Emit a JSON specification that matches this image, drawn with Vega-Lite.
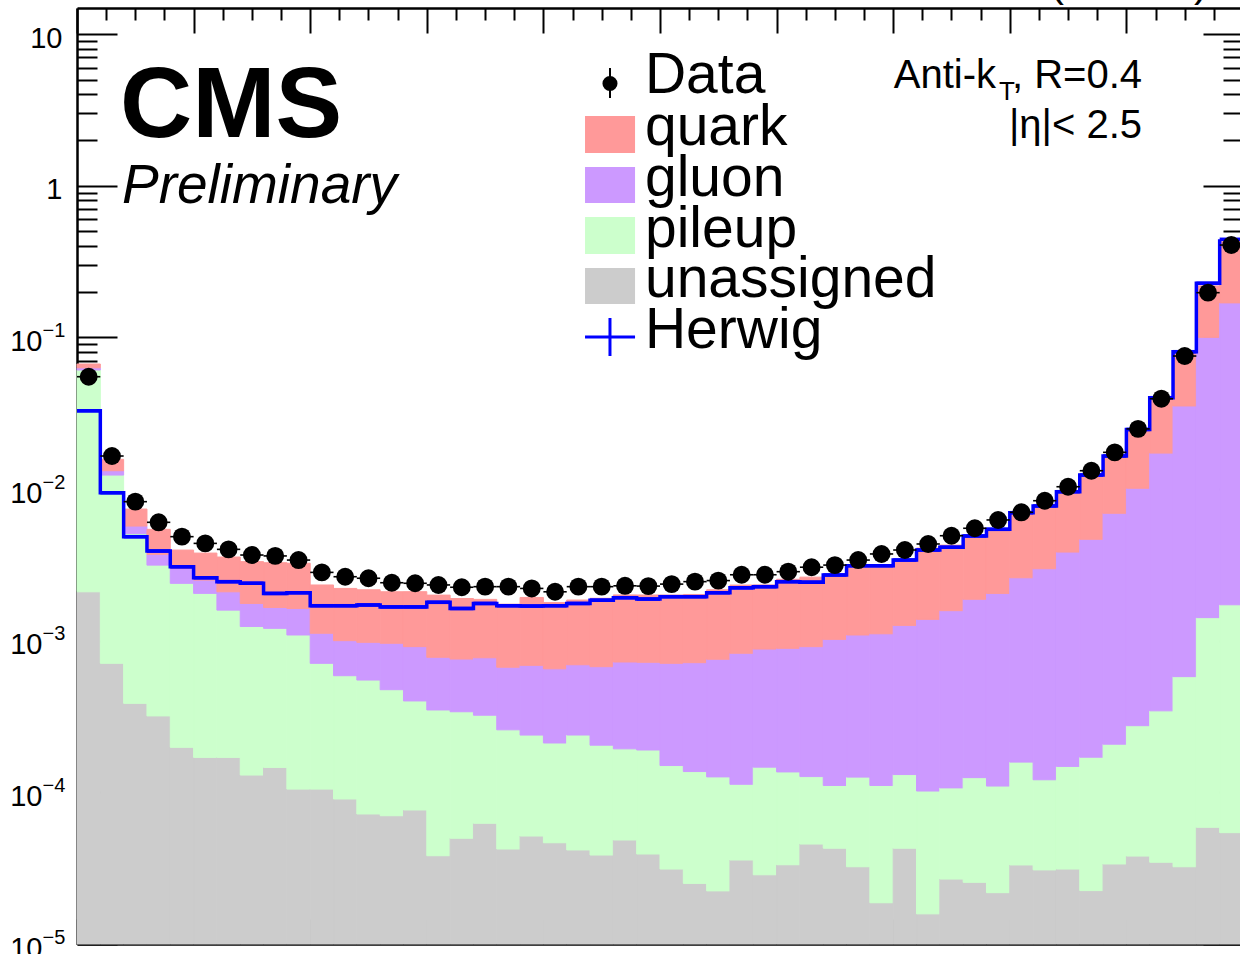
{
  "$schema": "https://vega.github.io/schema/vega-lite/v6.json",
  "width": 1163,
  "height": 936,
  "autosize": {"type": "none"},
  "padding": {"left": 77, "top": 8, "right": 0, "bottom": 10},
  "background": "white",
  "data": {
    "values": [
      {"lo": 0.00, "hi": 0.02, "unassigned": 0.00210, "pileup": 0.0588, "gluon": 0.0021, "quark": 0.0037, "herwig": 0.0328, "data": 0.0550},
      {"lo": 0.02, "hi": 0.04, "unassigned": 0.000709, "pileup": 0.01165, "gluon": 0.00084, "quark": 0.00249, "herwig": 0.00945, "data": 0.0165},
      {"lo": 0.04, "hi": 0.06, "unassigned": 0.000386, "pileup": 0.00471, "gluon": 0.00060, "quark": 0.00168, "herwig": 0.00485, "data": 0.00825},
      {"lo": 0.06, "hi": 0.08, "unassigned": 0.000319, "pileup": 0.00283, "gluon": 0.00056, "quark": 0.00171, "herwig": 0.00390, "data": 0.00603},
      {"lo": 0.08, "hi": 0.10, "unassigned": 0.000198, "pileup": 0.00219, "gluon": 0.00061, "quark": 0.00096, "herwig": 0.00307, "data": 0.00485},
      {"lo": 0.10, "hi": 0.12, "unassigned": 0.000170, "pileup": 0.00188, "gluon": 0.00046, "quark": 0.00127, "herwig": 0.00260, "data": 0.00438},
      {"lo": 0.12, "hi": 0.14, "unassigned": 0.000170, "pileup": 0.00142, "gluon": 0.00051, "quark": 0.00146, "herwig": 0.00245, "data": 0.00400},
      {"lo": 0.14, "hi": 0.16, "unassigned": 0.000130, "pileup": 0.00111, "gluon": 0.00052, "quark": 0.00156, "herwig": 0.00239, "data": 0.00367},
      {"lo": 0.16, "hi": 0.18, "unassigned": 0.000146, "pileup": 0.00106, "gluon": 0.00045, "quark": 0.00161, "herwig": 0.00205, "data": 0.00362},
      {"lo": 0.18, "hi": 0.20, "unassigned": 0.000105, "pileup": 0.000985, "gluon": 0.00054, "quark": 0.00161, "herwig": 0.00207, "data": 0.00340},
      {"lo": 0.20, "hi": 0.22, "unassigned": 0.000105, "pileup": 0.000604, "gluon": 0.00041, "quark": 0.00121, "herwig": 0.00170, "data": 0.00282},
      {"lo": 0.22, "hi": 0.24, "unassigned": 0.0000904, "pileup": 0.000497, "gluon": 0.000413, "quark": 0.00121, "herwig": 0.00170, "data": 0.00264},
      {"lo": 0.24, "hi": 0.26, "unassigned": 0.0000720, "pileup": 0.000478, "gluon": 0.000425, "quark": 0.00119, "herwig": 0.00172, "data": 0.00258},
      {"lo": 0.26, "hi": 0.28, "unassigned": 0.0000701, "pileup": 0.000405, "gluon": 0.000486, "quark": 0.00114, "herwig": 0.00167, "data": 0.00241},
      {"lo": 0.28, "hi": 0.30, "unassigned": 0.0000765, "pileup": 0.000324, "gluon": 0.000513, "quark": 0.00119, "herwig": 0.00167, "data": 0.00239},
      {"lo": 0.30, "hi": 0.32, "unassigned": 0.0000382, "pileup": 0.000311, "gluon": 0.000428, "quark": 0.00122, "herwig": 0.00179, "data": 0.00233},
      {"lo": 0.32, "hi": 0.34, "unassigned": 0.0000498, "pileup": 0.000290, "gluon": 0.000417, "quark": 0.00114, "herwig": 0.00163, "data": 0.00225},
      {"lo": 0.34, "hi": 0.36, "unassigned": 0.0000625, "pileup": 0.000260, "gluon": 0.000449, "quark": 0.00110, "herwig": 0.00176, "data": 0.00227},
      {"lo": 0.36, "hi": 0.38, "unassigned": 0.0000423, "pileup": 0.000216, "gluon": 0.000410, "quark": 0.00107, "herwig": 0.00170, "data": 0.00227},
      {"lo": 0.38, "hi": 0.40, "unassigned": 0.0000515, "pileup": 0.000187, "gluon": 0.000449, "quark": 0.00124, "herwig": 0.00169, "data": 0.00221},
      {"lo": 0.40, "hi": 0.42, "unassigned": 0.0000465, "pileup": 0.000165, "gluon": 0.000441, "quark": 0.00113, "herwig": 0.00170, "data": 0.00210},
      {"lo": 0.42, "hi": 0.44, "unassigned": 0.0000417, "pileup": 0.000197, "gluon": 0.000455, "quark": 0.00116, "herwig": 0.00176, "data": 0.00227},
      {"lo": 0.44, "hi": 0.46, "unassigned": 0.0000386, "pileup": 0.000166, "gluon": 0.000469, "quark": 0.00123, "herwig": 0.00185, "data": 0.00227},
      {"lo": 0.46, "hi": 0.48, "unassigned": 0.0000485, "pileup": 0.000145, "gluon": 0.000530, "quark": 0.00128, "herwig": 0.00192, "data": 0.00230},
      {"lo": 0.48, "hi": 0.50, "unassigned": 0.0000392, "pileup": 0.000151, "gluon": 0.000530, "quark": 0.00128, "herwig": 0.00188, "data": 0.00229},
      {"lo": 0.50, "hi": 0.52, "unassigned": 0.0000312, "pileup": 0.000119, "gluon": 0.000559, "quark": 0.00129, "herwig": 0.00195, "data": 0.00236},
      {"lo": 0.52, "hi": 0.54, "unassigned": 0.0000251, "pileup": 0.000112, "gluon": 0.000579, "quark": 0.00130, "herwig": 0.00195, "data": 0.00245},
      {"lo": 0.54, "hi": 0.56, "unassigned": 0.0000224, "pileup": 0.000104, "gluon": 0.000628, "quark": 0.00141, "herwig": 0.00207, "data": 0.00249},
      {"lo": 0.56, "hi": 0.58, "unassigned": 0.0000358, "pileup": 0.0000772, "gluon": 0.000713, "quark": 0.00150, "herwig": 0.00223, "data": 0.00272},
      {"lo": 0.58, "hi": 0.60, "unassigned": 0.0000286, "pileup": 0.000118, "gluon": 0.000734, "quark": 0.00145, "herwig": 0.00227, "data": 0.00272},
      {"lo": 0.60, "hi": 0.62, "unassigned": 0.0000333, "pileup": 0.000103, "gluon": 0.000754, "quark": 0.00165, "herwig": 0.00245, "data": 0.00285},
      {"lo": 0.62, "hi": 0.64, "unassigned": 0.0000456, "pileup": 0.0000814, "gluon": 0.000786, "quark": 0.00171, "herwig": 0.00243, "data": 0.00305},
      {"lo": 0.64, "hi": 0.66, "unassigned": 0.0000428, "pileup": 0.0000682, "gluon": 0.000909, "quark": 0.00161, "herwig": 0.00271, "data": 0.00315},
      {"lo": 0.66, "hi": 0.68, "unassigned": 0.0000323, "pileup": 0.0000937, "gluon": 0.000964, "quark": 0.00194, "herwig": 0.00312, "data": 0.00340},
      {"lo": 0.68, "hi": 0.70, "unassigned": 0.0000187, "pileup": 0.0000923, "gluon": 0.000999, "quark": 0.00192, "herwig": 0.00312, "data": 0.00373},
      {"lo": 0.70, "hi": 0.72, "unassigned": 0.0000428, "pileup": 0.0000882, "gluon": 0.00113, "quark": 0.00204, "herwig": 0.00340, "data": 0.00396},
      {"lo": 0.72, "hi": 0.74, "unassigned": 0.0000158, "pileup": 0.0000862, "gluon": 0.00128, "quark": 0.00270, "herwig": 0.00396, "data": 0.00434},
      {"lo": 0.74, "hi": 0.76, "unassigned": 0.0000268, "pileup": 0.0000802, "gluon": 0.00147, "quark": 0.00269, "herwig": 0.00413, "data": 0.00492},
      {"lo": 0.76, "hi": 0.78, "unassigned": 0.0000255, "pileup": 0.0000995, "gluon": 0.00175, "quark": 0.00288, "herwig": 0.00490, "data": 0.00551},
      {"lo": 0.78, "hi": 0.80, "unassigned": 0.0000218, "pileup": 0.0000882, "gluon": 0.00194, "quark": 0.00321, "herwig": 0.00542, "data": 0.00625},
      {"lo": 0.80, "hi": 0.82, "unassigned": 0.0000332, "pileup": 0.000125, "gluon": 0.00244, "quark": 0.00417, "herwig": 0.00698, "data": 0.00702},
      {"lo": 0.82, "hi": 0.84, "unassigned": 0.0000308, "pileup": 0.0000902, "gluon": 0.00286, "quark": 0.00451, "herwig": 0.00773, "data": 0.00837},
      {"lo": 0.84, "hi": 0.86, "unassigned": 0.0000312, "pileup": 0.000117, "gluon": 0.00369, "quark": 0.00547, "herwig": 0.00960, "data": 0.01035},
      {"lo": 0.86, "hi": 0.88, "unassigned": 0.0000225, "pileup": 0.000148, "gluon": 0.00449, "quark": 0.00734, "herwig": 0.01236, "data": 0.01320},
      {"lo": 0.88, "hi": 0.90, "unassigned": 0.0000337, "pileup": 0.000174, "gluon": 0.00671, "quark": 0.00908, "herwig": 0.01650, "data": 0.01745},
      {"lo": 0.90, "hi": 0.92, "unassigned": 0.0000380, "pileup": 0.000237, "gluon": 0.00984, "quark": 0.0139, "herwig": 0.0247, "data": 0.0249},
      {"lo": 0.92, "hi": 0.94, "unassigned": 0.0000346, "pileup": 0.000310, "gluon": 0.0169, "quark": 0.0216, "herwig": 0.0400, "data": 0.0394},
      {"lo": 0.94, "hi": 0.96, "unassigned": 0.0000323, "pileup": 0.000547, "gluon": 0.0347, "quark": 0.0427, "herwig": 0.0804, "data": 0.0753},
      {"lo": 0.96, "hi": 0.98, "unassigned": 0.0000588, "pileup": 0.00136, "gluon": 0.0986, "quark": 0.118, "herwig": 0.227, "data": 0.197},
      {"lo": 0.98, "hi": 1.00, "unassigned": 0.0000542, "pileup": 0.00167, "gluon": 0.167, "quark": 0.258, "herwig": 0.443, "data": 0.406}
    ]
  },
  "resolve": {"axis": {"x": "independent", "y": "independent"}},
  "layer": [
    {
      "transform": [
        {"fold": ["unassigned", "pileup", "gluon", "quark"], "as": ["component", "value"]},
        {"calculate": "indexof(['unassigned', 'pileup', 'gluon', 'quark'], datum.component)", "as": "ord"},
        {"stack": "value", "groupby": ["lo"], "sort": [{"field": "ord", "order": "ascending"}], "as": ["v0", "v1"]},
        {"calculate": "max(datum.v0, 1e-5)", "as": "v0b"}
      ],
      "mark": {"type": "rect", "strokeWidth": 1},
      "encoding": {
        "x": {
          "field": "lo", "type": "quantitative",
          "scale": {"domain": [0, 0.99743], "nice": false, "zero": false},
          "axis": {"orient": "bottom", "values": [0, 0.1, 0.2, 0.3, 0.4, 0.5, 0.6, 0.7, 0.8, 0.9], "tickSize": -25, "labels": false, "domain": true, "title": null}
        },
        "x2": {"field": "hi"},
        "y": {
          "field": "v1", "type": "quantitative",
          "scale": {"type": "log", "domain": [1e-5, 14.84], "nice": false},
          "axis": {
            "orient": "left", "values": [1e-5, 1e-4, 1e-3, 1e-2, 1e-1, 1, 10],
            "ticks": false, "tickSize": 0, "domain": true, "labelFontSize": 29, "labelOffset": 4,
            "labelPadding": {"condition": {"test": "datum.value >= 1", "value": 15}, "value": 35},
            "labelExpr": "datum.value == 1 ? '1' : '10'",
            "title": null
          }
        },
        "y2": {"field": "v0b"},
        "color": {
          "field": "component", "type": "nominal",
          "scale": {"domain": ["quark", "gluon", "pileup", "unassigned"], "range": ["#FF9999", "#CC99FF", "#CCFFCC", "#CCCCCC"]},
          "legend": null
        },
        "stroke": {
          "field": "component", "type": "nominal",
          "scale": {"domain": ["quark", "gluon", "pileup", "unassigned"], "range": ["#FF9999", "#CC99FF", "#CCFFCC", "#CCCCCC"]},
          "legend": null
        }
      }
    },
    {
      "mark": {"type": "line", "interpolate": "step-after", "color": "#0000FF", "strokeWidth": 3.5},
      "encoding": {
        "x": {
          "field": "lo", "type": "quantitative",
          "scale": {"domain": [0, 0.99743], "nice": false, "zero": false},
          "axis": {"orient": "bottom", "values": [0.025, 0.05, 0.075, 0.125, 0.15, 0.175, 0.225, 0.25, 0.275, 0.325, 0.35, 0.375, 0.425, 0.45, 0.475, 0.525, 0.55, 0.575, 0.625, 0.65, 0.675, 0.725, 0.75, 0.775, 0.825, 0.85, 0.875, 0.925, 0.95, 0.975], "tickSize": -12, "labels": false, "domain": false, "title": null}
        },
        "y": {
          "field": "herwig", "type": "quantitative",
          "scale": {"type": "log", "domain": [1e-5, 14.84], "nice": false},
          "axis": {
            "orient": "left",
            "values": [1e-5, 2e-5, 3e-5, 4e-5, 5e-5, 6e-5, 7e-5, 8e-5, 9e-5, 1e-4, 2e-4, 3e-4, 4e-4, 5e-4, 6e-4, 7e-4, 8e-4, 9e-4, 0.001, 0.002, 0.003, 0.004, 0.005, 0.006, 0.007, 0.008, 0.009, 0.01, 0.02, 0.03, 0.04, 0.05, 0.06, 0.07, 0.08, 0.09, 0.1, 0.2, 0.3, 0.4, 0.5, 0.6, 0.7, 0.8, 0.9, 1, 2, 3, 4, 5, 6, 7, 8, 9, 10],
            "tickSize": {"condition": {"test": "abs(log(datum.value)/LN10 - round(log(datum.value)/LN10)) < 0.001", "value": -40}, "value": -20},
            "labels": false, "domain": false, "title": null
          }
        }
      }
    },
    {
      "mark": {"type": "rule", "color": "#0000FF", "strokeWidth": 3.5},
      "encoding": {
        "x": {
          "field": "lo", "type": "quantitative",
          "scale": {"domain": [0, 0.99743], "nice": false, "zero": false},
          "axis": {"orient": "top", "values": [0, 0.1, 0.2, 0.3, 0.4, 0.5, 0.6, 0.7, 0.8, 0.9], "tickSize": -25, "labels": false, "domain": true, "title": null}
        },
        "x2": {"field": "hi"},
        "y": {
          "field": "herwig", "type": "quantitative",
          "scale": {"type": "log", "domain": [1e-5, 14.84], "nice": false},
          "axis": {
            "orient": "left", "values": [1e-5, 1e-4, 1e-3, 1e-2, 1e-1],
            "ticks": false, "tickSize": 0, "domain": false, "labelAlign": "left", "labelPadding": 35,
            "labelFontSize": 20, "labelOffset": -7,
            "labelExpr": "'−' + (-round(log(datum.value)/LN10))", "title": null
          }
        }
      }
    },
    {
      "mark": {"type": "rule", "color": "black", "strokeWidth": 1.6},
      "encoding": {
        "x": {
          "field": "lo", "type": "quantitative",
          "scale": {"domain": [0, 0.99743], "nice": false, "zero": false},
          "axis": {"orient": "top", "values": [0.025, 0.05, 0.075, 0.125, 0.15, 0.175, 0.225, 0.25, 0.275, 0.325, 0.35, 0.375, 0.425, 0.45, 0.475, 0.525, 0.55, 0.575, 0.625, 0.65, 0.675, 0.725, 0.75, 0.775, 0.825, 0.85, 0.875, 0.925, 0.95, 0.975], "tickSize": -12, "labels": false, "domain": false, "title": null}
        },
        "x2": {"field": "hi"},
        "y": {
          "field": "data", "type": "quantitative",
          "scale": {"type": "log", "domain": [1e-5, 14.84], "nice": false},
          "axis": {
            "orient": "right",
            "values": [1e-5, 2e-5, 3e-5, 4e-5, 5e-5, 6e-5, 7e-5, 8e-5, 9e-5, 1e-4, 2e-4, 3e-4, 4e-4, 5e-4, 6e-4, 7e-4, 8e-4, 9e-4, 0.001, 0.002, 0.003, 0.004, 0.005, 0.006, 0.007, 0.008, 0.009, 0.01, 0.02, 0.03, 0.04, 0.05, 0.06, 0.07, 0.08, 0.09, 0.1, 0.2, 0.3, 0.4, 0.5, 0.6, 0.7, 0.8, 0.9, 1, 2, 3, 4, 5, 6, 7, 8, 9, 10],
            "tickSize": {"condition": {"test": "abs(log(datum.value)/LN10 - round(log(datum.value)/LN10)) < 0.001", "value": -37}, "value": -17},
            "labels": false, "domain": false, "title": null
          }
        }
      }
    },
    {
      "transform": [{"calculate": "(datum.lo + datum.hi) / 2", "as": "mid"}],
      "mark": {"type": "point", "shape": "circle", "filled": true, "size": 320, "color": "black", "opacity": 1},
      "encoding": {
        "x": {
          "field": "mid", "type": "quantitative",
          "scale": {"domain": [0, 0.99743], "nice": false, "zero": false},
          "axis": null
        },
        "y": {
          "field": "data", "type": "quantitative",
          "scale": {"type": "log", "domain": [1e-5, 14.84], "nice": false},
          "axis": null
        }
      }
    },
    {
      "data": {"values": [{}]},
      "layer": [
        {"mark": {"type": "text", "text": "CMS", "fontSize": 100, "fontWeight": "bold"},
         "encoding": {"x": {"datum": 0.0369, "axis": null}, "y": {"datum": 2.093, "axis": null}}},
        {"mark": {"type": "text", "text": "Preliminary", "fontSize": 55, "fontStyle": "italic"},
         "encoding": {"x": {"datum": 0.0386, "axis": null}, "y": {"datum": 0.7684, "axis": null}}},
        {"mark": {"type": "text", "text": "Anti-k", "fontSize": 40, "align": "right"},
         "encoding": {"x": {"datum": 0.7882, "axis": null}, "y": {"datum": 4.404, "axis": null}}},
        {"mark": {"type": "text", "text": "T", "fontSize": 26},
         "encoding": {"x": {"datum": 0.7907, "axis": null}, "y": {"datum": 3.67, "axis": null}}},
        {"mark": {"type": "text", "text": ", R=0.4", "fontSize": 40, "align": "right"},
         "encoding": {"x": {"datum": 0.9134, "axis": null}, "y": {"datum": 4.404, "axis": null}}},
        {"mark": {"type": "text", "text": "|η|< 2.5", "fontSize": 40, "align": "right"},
         "encoding": {"x": {"datum": 0.9134, "axis": null}, "y": {"datum": 2.052, "axis": null}}},
        {"mark": {"type": "text", "text": "(13 TeV)", "fontSize": 42, "align": "right"},
         "encoding": {"x": {"datum": 0.97, "axis": null}, "y": {"datum": 17.8, "axis": null}}},

        {"mark": {"type": "rule", "color": "black", "strokeWidth": 2},
         "encoding": {"x": {"datum": 0.4571, "axis": null}, "y": {"datum": 5.967, "axis": null}, "y2": {"datum": 3.783}}},
        {"mark": {"type": "point", "shape": "circle", "filled": true, "size": 227, "color": "black", "opacity": 1},
         "encoding": {"x": {"datum": 0.4571, "axis": null}, "y": {"datum": 4.716, "axis": null}}},
        {"mark": {"type": "rect", "color": "#FF9999"},
         "encoding": {"x": {"datum": 0.4357, "axis": null}, "x2": {"datum": 0.4786}, "y": {"datum": 2.879, "axis": null}, "y2": {"datum": 1.642}}},
        {"mark": {"type": "rect", "color": "#CC99FF"},
         "encoding": {"x": {"datum": 0.4357, "axis": null}, "x2": {"datum": 0.4786}, "y": {"datum": 1.327, "axis": null}, "y2": {"datum": 0.7684}}},
        {"mark": {"type": "rect", "color": "#CCFFCC"},
         "encoding": {"x": {"datum": 0.4357, "axis": null}, "x2": {"datum": 0.4786}, "y": {"datum": 0.6214, "axis": null}, "y2": {"datum": 0.3543}}},
        {"mark": {"type": "rect", "color": "#CCCCCC"},
         "encoding": {"x": {"datum": 0.4357, "axis": null}, "x2": {"datum": 0.4786}, "y": {"datum": 0.2865, "axis": null}, "y2": {"datum": 0.1658}}},
        {"mark": {"type": "rule", "color": "#0000FF", "strokeWidth": 3},
         "encoding": {"x": {"datum": 0.4357, "axis": null}, "x2": {"datum": 0.4786}, "y": {"datum": 0.1005, "axis": null}}},
        {"mark": {"type": "rule", "color": "#0000FF", "strokeWidth": 3},
         "encoding": {"x": {"datum": 0.4571, "axis": null}, "y": {"datum": 0.1341, "axis": null}, "y2": {"datum": 0.0753}}},

        {"mark": {"type": "text", "text": "Data"},
         "encoding": {"x": {"datum": 0.4871, "axis": null}, "y": {"datum": 4.082, "axis": null}}},
        {"mark": {"type": "text", "text": "quark"},
         "encoding": {"x": {"datum": 0.4871, "axis": null}, "y": {"datum": 1.854, "axis": null}}},
        {"mark": {"type": "text", "text": "gluon"},
         "encoding": {"x": {"datum": 0.4871, "axis": null}, "y": {"datum": 0.8546, "axis": null}}},
        {"mark": {"type": "text", "text": "pileup"},
         "encoding": {"x": {"datum": 0.4871, "axis": null}, "y": {"datum": 0.397, "axis": null}}},
        {"mark": {"type": "text", "text": "unassigned"},
         "encoding": {"x": {"datum": 0.4871, "axis": null}, "y": {"datum": 0.1845, "axis": null}}},
        {"mark": {"type": "text", "text": "Herwig"},
         "encoding": {"x": {"datum": 0.4871, "axis": null}, "y": {"datum": 0.085, "axis": null}}}
      ]
    }
  ],
  "config": {
    "view": {"stroke": null},
    "axis": {
      "zindex": 1,
      "grid": false,
      "domainColor": "black",
      "domainWidth": 2.5,
      "tickColor": "black",
      "tickWidth": 2,
      "labelFont": "Liberation Sans",
      "labelFontSize": 28,
      "labelColor": "black",
      "labelOverlap": false,
      "labelFlush": false,
      "labelBound": false
    },
    "text": {"font": "Liberation Sans", "fontSize": 57, "align": "left", "baseline": "alphabetic", "color": "black"}
  }
}
